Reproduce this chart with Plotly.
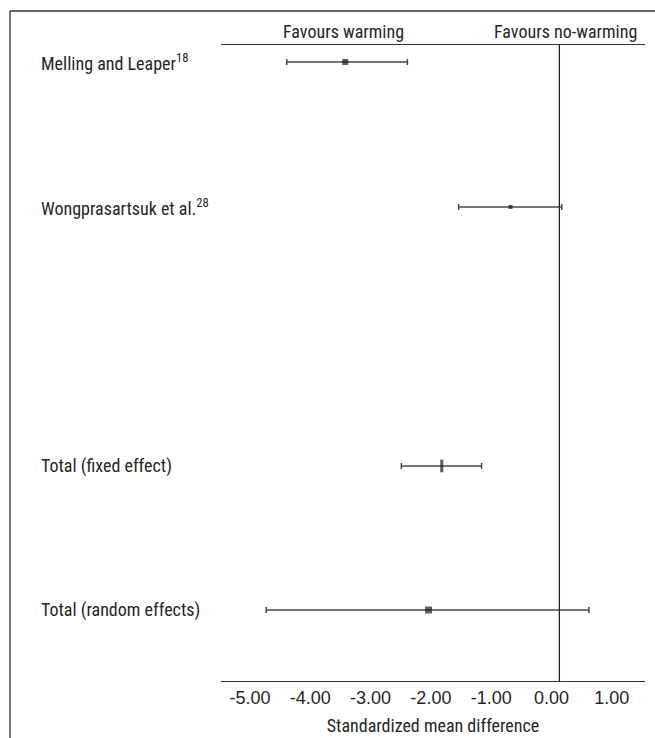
import plotly.graph_objects as go

# ---- data ----
studies = ["Melling and Leaper<sup>18</sup>", "Wongprasartsuk et al.<sup>28</sup>",
           "Total (fixed effect)", "Total (random effects)"]
smd = [-3.42, -0.68, -1.82, -2.04]
ci_low = [-4.39, -1.54, -2.49, -4.73]
ci_high = [-2.39, 0.17, -1.16, 0.62]
marker_sizes = [6, 4, 9, 7]
marker_symbols = ["square", "square", "line-ns", "square"]
null_line = 0.13
tick_vals = [-5, -4, -3, -2, -1, 0, 1]
tick_text = ["-5.00", "-4.00", "-3.00", "-2.00", "-1.00", "0.00", "1.00"]
x_title = "Standardized mean difference"
favours_left = "Favours warming"
favours_right = "Favours no-warming"

# ---- layout helpers (pixel geometry) ----
W, H = 655, 738
ML, MR, MT, MB = 221, 10, 45, 57
PH = H - MT - MB
row_pos = [17, 162, 421, 565]  # vertical offset from plot top

FONT = "Roboto Condensed, Liberation Sans Narrow, Arial Narrow, sans-serif"
TICKFONT = "Liberation Sans, Arial, sans-serif"
TXT = "#262626"

fig = go.Figure()
err_plus = [h - m for h, m in zip(ci_high, smd)]
err_minus = [m - l for m, l in zip(smd, ci_low)]

fig.add_trace(go.Scatter(
    x=smd, y=row_pos, mode="markers",
    marker=dict(symbol=marker_symbols, size=marker_sizes, color="#1a1a1a",
                line=dict(color="#1a1a1a", width=[0, 0, 3, 0])),
    error_x=dict(type="data", symmetric=False, array=err_plus, arrayminus=err_minus,
                 color="#4a4a4a", thickness=1.5, width=3),
    showlegend=False, hoverinfo="skip"))

def px_to_paper_x(px):
    return (px - ML) / (W - ML - MR)

def px_to_paper_y(py):
    return (H - MB - py) / PH

ann = []
for s, r in zip(studies, row_pos):
    ann.append(dict(x=px_to_paper_x(39), xref="paper", y=r, yref="y", text=s,
                    showarrow=False, xanchor="left", yanchor="middle",
                    font=dict(family=FONT, size=18, color=TXT)))
ann.append(dict(x=px_to_paper_x(343), xref="paper", xanchor="center", y=1, yref="paper",
                yanchor="bottom", yshift=1, text=favours_left, showarrow=False,
                font=dict(family=FONT, size=18, color=TXT)))
ann.append(dict(x=px_to_paper_x(565), xref="paper", xanchor="center", y=1, yref="paper",
                yanchor="bottom", yshift=1, text=favours_right, showarrow=False,
                font=dict(family=FONT, size=18, color=TXT)))

shapes = [
    dict(type="line", xref="x", yref="paper", x0=null_line, x1=null_line, y0=0, y1=1,
         line=dict(color="#222222", width=1.3)),
    dict(type="line", xref="paper", yref="paper", x0=px_to_paper_x(10), x1=px_to_paper_x(660),
         y0=px_to_paper_y(11), y1=px_to_paper_y(11), line=dict(color="#333333", width=1.3)),
    dict(type="line", xref="paper", yref="paper", x0=px_to_paper_x(10), x1=px_to_paper_x(10),
         y0=px_to_paper_y(11), y1=px_to_paper_y(760), line=dict(color="#333333", width=1.3)),
]

fig.update_layout(
    width=W, height=H, margin=dict(l=ML, r=MR, t=MT, b=MB, autoexpand=False),
    paper_bgcolor="white", plot_bgcolor="white",
    annotations=ann, shapes=shapes,
    xaxis=dict(range=[-5.48, 1.55], tickvals=tick_vals, ticktext=tick_text,
               automargin=False,
               showgrid=False, zeroline=False, showline=True, mirror=True,
               linecolor="#333333", linewidth=1.3, ticks="",
               tickfont=dict(family=TICKFONT, size=18, color=TXT),
               title=dict(text=x_title, font=dict(family=FONT, size=18, color=TXT), standoff=12)),
    yaxis=dict(range=[PH, 0], showgrid=False, zeroline=False, showline=False,
               showticklabels=False, ticks=""),
)

fig.write_html("out.html")
